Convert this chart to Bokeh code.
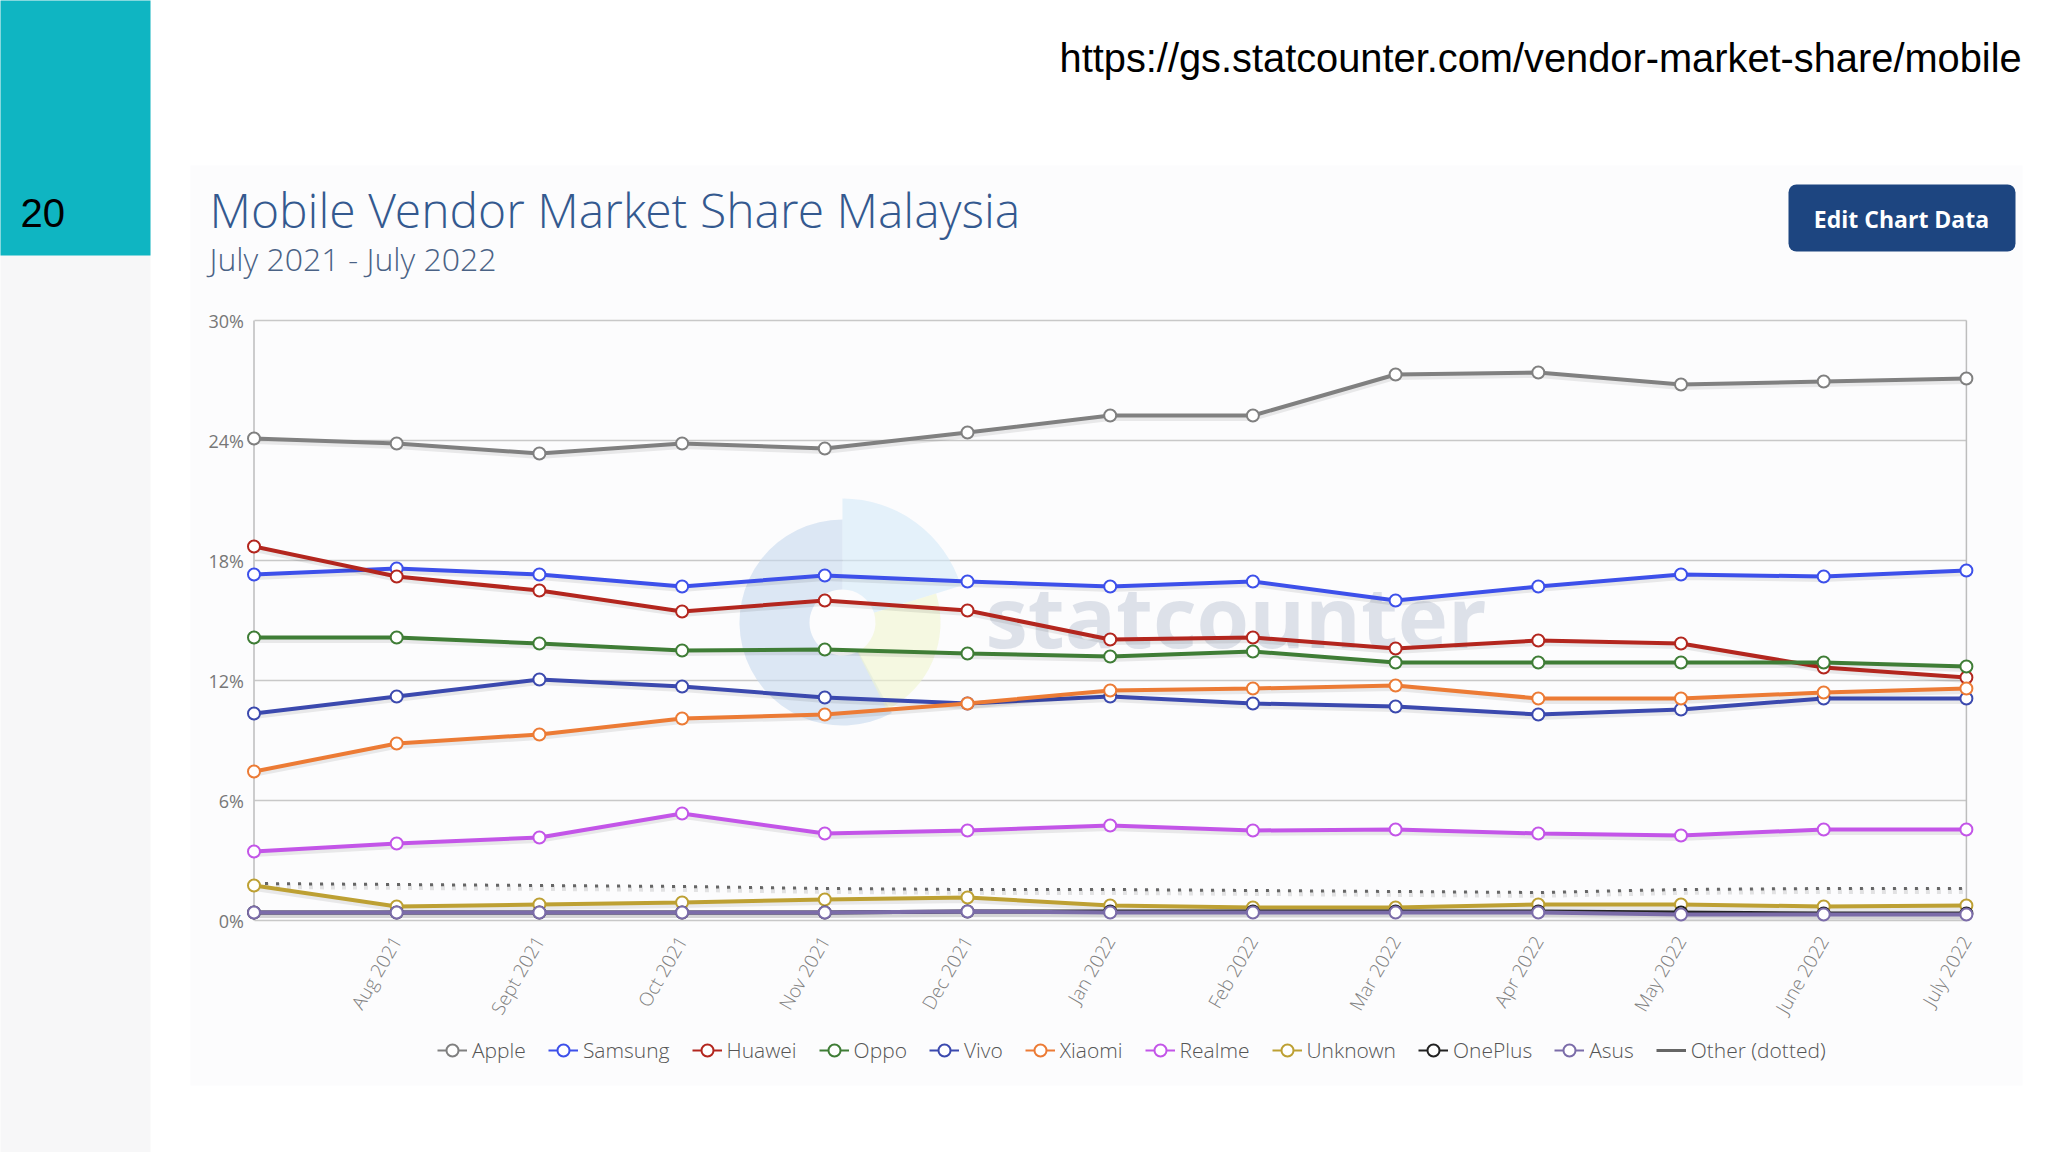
from bokeh.plotting import figure
from bokeh.models import (BoxAnnotation, Label, Legend, LegendItem, FixedTicker, Grid, Range1d)
from bokeh.core.properties import value
from bokeh.embed import file_html
from bokeh.resources import INLINE
import math

months = ["July 2021", "Aug 2021", "Sept 2021", "Oct 2021", "Nov 2021", "Dec 2021", "Jan 2022",
          "Feb 2022", "Mar 2022", "Apr 2022", "May 2022", "June 2022", "July 2022"]
y_ticks = [0, 6, 12, 18, 24, 30]

apple = [24.1, 23.85, 23.35, 23.85, 23.6, 24.4, 25.25, 25.25, 27.3, 27.4, 26.8, 26.95, 27.1]
samsung = [17.3, 17.6, 17.3, 16.7, 17.25, 16.95, 16.7, 16.95, 16.0, 16.7, 17.3, 17.2, 17.5]
huawei = [18.7, 17.2, 16.5, 15.45, 16.0, 15.5, 14.05, 14.15, 13.6, 14.0, 13.85, 12.65, 12.15]
oppo = [14.15, 14.15, 13.85, 13.5, 13.55, 13.35, 13.2, 13.45, 12.9, 12.9, 12.9, 12.9, 12.7]
vivo = [10.35, 11.2, 12.05, 11.7, 11.15, 10.85, 11.2, 10.85, 10.7, 10.3, 10.55, 11.1, 11.1]
xiaomi = [7.45, 8.85, 9.3, 10.1, 10.3, 10.85, 11.5, 11.6, 11.75, 11.1, 11.1, 11.4, 11.6]
realme = [3.45, 3.85, 4.15, 5.35, 4.35, 4.5, 4.75, 4.5, 4.55, 4.35, 4.25, 4.55, 4.55]
unknown = [1.75, 0.7, 0.8, 0.9, 1.05, 1.15, 0.75, 0.65, 0.65, 0.8, 0.8, 0.7, 0.75]
oneplus = [0.4, 0.4, 0.4, 0.4, 0.4, 0.45, 0.45, 0.45, 0.45, 0.45, 0.4, 0.35, 0.35]
asus = [0.4, 0.4, 0.4, 0.4, 0.4, 0.45, 0.4, 0.4, 0.4, 0.4, 0.3, 0.3, 0.3]
other = [1.85, 1.8, 1.75, 1.7, 1.6, 1.55, 1.55, 1.5, 1.45, 1.4, 1.55, 1.6, 1.6]

series = [("Apple", apple, "#808080"), ("Samsung", samsung, "#3d50ea"), ("Huawei", huawei, "#b3261e"),
          ("Oppo", oppo, "#3f7d36"), ("Vivo", vivo, "#3b49ae"), ("Xiaomi", xiaomi, "#ec7b35"),
          ("Realme", realme, "#c355e8"), ("Unknown", unknown, "#bda033"), ("OnePlus", oneplus, "#222222"),
          ("Asus", asus, "#7b6ca9")]

W, H = 2048, 1152
X0, DX, Y0, DY = 253.5, 142.7, 920, 20.0  # page position of first month / 0%, and pixels per unit

p = figure(width=W, height=H, output_backend="svg", toolbar_location=None,
           x_range=Range1d((0 - X0) / DX, (W - X0) / DX),
           y_range=Range1d((Y0 - H) / DY, (Y0 - 0) / DY),
           min_border=0)
p.styles = {"position": "absolute", "left": "0px", "top": "0px"}
p.background_fill_color = "#ffffff"
p.border_fill_color = "#ffffff"
p.outline_line_color = None
p.xgrid.visible = False
p.ygrid.visible = False


def box(l, t, r, b, color, **kw):
    b_ = BoxAnnotation(left=l, right=r, top=t, bottom=b, left_units="canvas", right_units="canvas",
                       top_units="canvas", bottom_units="canvas", fill_color=color, fill_alpha=1,
                       line_color=None, level="underlay", **kw)
    p.add_layout(b_)


box(-5, -5, 150, 1160, "#f7f7f8")
box(-5, -5, 150, 255, "#0fb5c2")
box(190, 165, 2022, 1085, "#fcfcfd")
box(1788, 184, 2015, 251, "#1d4580", border_radius=8)


def text(s, x, y, size, color, font="Open Sans", align="left", style="normal"):
    p.add_layout(Label(x=x, y=y, x_units="canvas", y_units="canvas", text=s, text_font=font,
                       text_font_size=f"{size}px", text_color=color, text_align=align,
                       text_baseline="middle", text_font_style=style))


text("20", 20, 212, 40, "#000000", "Liberation Sans")
text("https://gs.statcounter.com/vendor-market-share/mobile", 1059, 57, 39.8, "#000000", "Liberation Sans")
text("Mobile Vendor Market Share Malaysia", 209, 209, 48, "#34598f", "Open Sans Light")
text("July 2021 - July 2022", 209, 258, 32, "#4a6285", "Open Sans Light")
text("Edit Chart Data", 1901, 218, 23, "#ffffff", "Open Sans", "center", "bold")

# watermark (drawn beneath the series)
ticks = FixedTicker(ticks=y_ticks)
p.add_layout(Grid(dimension=1, ticker=ticks, grid_line_color="#c8c8c8", grid_line_width=1.5, cross_bounds=(0, 12)))
lx, ly = (842 - X0) / DX, (Y0 - 622) / DY
wm_x = (985 - X0) / DX
wm_y = (Y0 - 614) / DY
p.annular_wedge(x=[lx], y=[ly], inner_radius=33, outer_radius=103, start_angle=math.pi / 2,
                end_angle=3 * math.pi / 2 + 0.5, inner_radius_units="screen", outer_radius_units="screen",
                fill_color="#c6d9ee", fill_alpha=0.6, line_color=None)
p.annular_wedge(x=[lx], y=[ly], inner_radius=33, outer_radius=124, start_angle=0.3,
                end_angle=math.pi / 2, inner_radius_units="screen", outer_radius_units="screen",
                fill_color="#d3e9f8", fill_alpha=0.6, line_color=None)
p.annular_wedge(x=[lx], y=[ly], inner_radius=33, outer_radius=98, start_angle=-1.1,
                end_angle=0.3, inner_radius_units="screen", outer_radius_units="screen",
                fill_color="#f0f5cf", fill_alpha=0.6, line_color=None)
p.text(x=[wm_x], y=[wm_y], text=["statcounter"], text_font=value("Open Sans"), text_font_size=value("85px"),
       text_font_style="bold", text_color="#cdd2de", text_alpha=0.65, text_baseline="middle")

p.segment(x0=[0, 12], y0=[0, 0], x1=[0, 12], y1=[30, 30], line_color="#bdbdbd", line_width=1.5)

xs = list(range(len(months)))
nan = float("nan")
p.line(xs, [v - 0.12 for v in other], line_color="#000000", line_alpha=0.10, line_width=6, line_dash=[4, 7])
p.line(xs, other, line_color="#666666", line_width=3, line_dash=[3, 8])
items = []
for name, vals, col in series:
    p.line(xs, [v - 0.12 for v in vals], line_color="#000000", line_alpha=0.08, line_width=6)
    p.line(xs, vals, line_color=col, line_width=4)
    p.scatter(xs, vals, size=12, fill_color="#ffffff", line_color=col, line_width=2)
    l_ = p.line([nan], [nan], line_color=col, line_width=2)
    m_ = p.scatter([nan], [nan], size=14, fill_color="#ffffff", line_color=col, line_width=2)
    items.append(LegendItem(label=name, renderers=[l_, m_]))
oth = p.line([nan], [nan], line_color="#666666", line_width=3)
items.append(LegendItem(label="Other (dotted)", renderers=[oth]))

legend = Legend(items=items, orientation="horizontal", location=(437, 87), glyph_width=30, glyph_height=30,
                label_standoff=5, spacing=22, padding=0, margin=0, border_line_color=None,
                background_fill_color=None, background_fill_alpha=0,
                label_text_font="Open Sans Light", label_text_font_size="21px", label_text_color="#555555")
p.add_layout(legend)

ax = p.xaxis[0]
ax.fixed_location = 0
ax.ticker = FixedTicker(ticks=xs[1:])
ax.major_label_overrides = {i: m for i, m in enumerate(months)}
ax.major_label_orientation = math.pi / 3
ax.major_label_text_font = "Open Sans Light"
ax.major_label_text_font_size = "19px"
ax.major_label_text_color = "#808080"
ax.major_label_standoff = 11
ax.axis_line_color = None
ax.major_tick_line_color = None
ax.minor_tick_line_color = None

ay = p.yaxis[0]
ay.fixed_location = 0
ay.ticker = ticks
ay.major_label_overrides = {v: f"{v}%" for v in y_ticks}
ay.major_label_text_font = "Open Sans"
ay.major_label_text_font_size = "18px"
ay.major_label_text_color = "#777777"
ay.major_label_standoff = 4
ay.axis_line_color = None
ay.major_tick_line_color = None
ay.minor_tick_line_color = None

open("out.html", "w").write(file_html(p, INLINE))
